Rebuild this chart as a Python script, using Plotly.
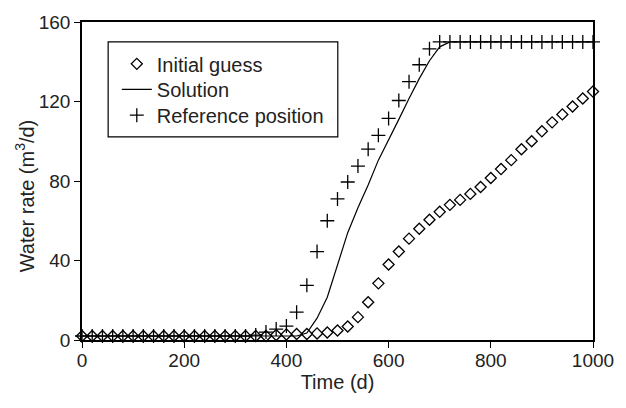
import plotly.graph_objects as go

time_d = [0, 20, 40, 60, 80, 100, 120, 140, 160, 180, 200, 220, 240, 260, 280, 300,
          320, 340, 360, 380, 400, 420, 440, 460, 480, 500, 520, 540, 560, 580, 600,
          620, 640, 660, 680, 700, 720, 740, 760, 780, 800, 820, 840, 860, 880, 900,
          920, 940, 960, 980, 1000]

initial_guess = [2, 2, 2, 2, 2, 2, 2, 2, 2, 2, 2, 2, 2, 2, 2, 2, 2, 2, 2,
                 2.5, 2.8, 3, 3, 3.3, 3.8, 4.8, 6.8, 11.5, 19, 28.5, 38, 44.5, 51,
                 56, 60.5, 64.5, 68, 70.5, 73.5, 77, 81.5, 86, 90.5, 96, 100, 105,
                 109.5, 113.5, 117.5, 121.5, 125]

solution = [2, 2, 2, 2, 2, 2, 2, 2, 2, 2, 2, 2, 2, 2, 2, 2, 2, 2, 2, 2, 2, 2,
            3.5, 11, 21.5, 38, 54, 66.5, 78, 90.5, 100.5, 111, 121.5, 131.5, 140.5,
            147.5, 150, 150, 150, 150, 150, 150, 150, 150, 150, 150, 150, 150, 150,
            150, 150]

reference_position = [2, 2, 2, 2, 2, 2, 2, 2, 2, 2, 2, 2, 2, 2, 2, 2, 2,
                      2.5, 4, 5.5, 7, 14, 27.5, 44.5, 60, 71, 79.5, 87.5, 96, 103,
                      111.5, 120.5, 130, 138.5, 146.5, 150, 150, 150, 150, 150, 150,
                      150, 150, 150, 150, 150, 150, 150, 150, 150, 150]

x_ticks = [0, 200, 400, 600, 800, 1000]
y_ticks = [0, 40, 80, 120, 160]

FONT = "Arial, Liberation Sans, sans-serif"
TXT = "#222"

# plot area in pixels: left 82, right 596, top 20.7, bottom 340
PL, PR, PT, PB = 82, 596, 20.7, 340
def px_x(px):
    return (px - PL) / (PR - PL)
def px_y(py):
    return (PB - py) / (PB - PT)

fig = go.Figure()
fig.add_trace(go.Scatter(
    x=time_d, y=initial_guess, mode="markers", name="Initial guess", legend="legend",
    marker=dict(symbol="diamond-open", size=8.5, color="black", line=dict(width=1.3, color="black")),
    cliponaxis=False,
))
fig.add_trace(go.Scatter(
    x=time_d, y=solution, mode="lines", name="Solution", legend="legend2",
    line=dict(color="black", width=1.2),
    cliponaxis=False,
))
fig.add_trace(go.Scatter(
    x=time_d, y=reference_position, mode="markers", name="Reference position", legend="legend3",
    marker=dict(symbol="cross-thin", size=10, color="black", line=dict(width=1.3, color="black")),
    cliponaxis=False,
))

axis_common = dict(
    showgrid=False, zeroline=False, showline=True, linecolor="black", linewidth=1.6,
    mirror=True, ticks="outside", ticklen=6, tickwidth=1.3, tickcolor="black",
    tickfont=dict(family=FONT, size=19, color=TXT),
)

def leg(py):
    return dict(x=px_x(117), y=px_y(py), xanchor="left", yanchor="middle",
                bgcolor="rgba(0,0,0,0)", borderwidth=0,
                font=dict(family=FONT, size=20, color=TXT), itemwidth=30)

fig.update_layout(
    width=626, height=408,
    margin=dict(l=PL, r=626 - PR, t=PT, b=408 - PB),
    paper_bgcolor="white", plot_bgcolor="white",
    font=dict(family=FONT, size=19, color=TXT),
    showlegend=True,
    legend=leg(62.7),
    legend2=leg(88.3),
    legend3=leg(114.3),
    xaxis=dict(range=[0, 1000], tickvals=x_ticks, ticklabelstandoff=-4,
               title=dict(text="Time (d)", font=dict(family=FONT, size=20, color=TXT), standoff=4),
               **axis_common),
    yaxis=dict(range=[0, 160], tickvals=y_ticks, **axis_common),
    annotations=[dict(text="Water rate (m<sup>3</sup>/d)", xref="paper", yref="paper",
                      x=-0.112, y=px_y(195), xanchor="center", yanchor="middle",
                      textangle=-90, showarrow=False,
                      font=dict(family=FONT, size=20, color=TXT))],
    shapes=[dict(type="rect", xref="paper", yref="paper",
                 x0=px_x(108.3), x1=px_x(339.3), y0=px_y(136), y1=px_y(40.7),
                 line=dict(color="black", width=1.2), fillcolor="rgba(0,0,0,0)", layer="above")],
)

fig.write_html("out.html", config={"displayModeBar": False},
               post_script="document.body.style.margin='0';")
